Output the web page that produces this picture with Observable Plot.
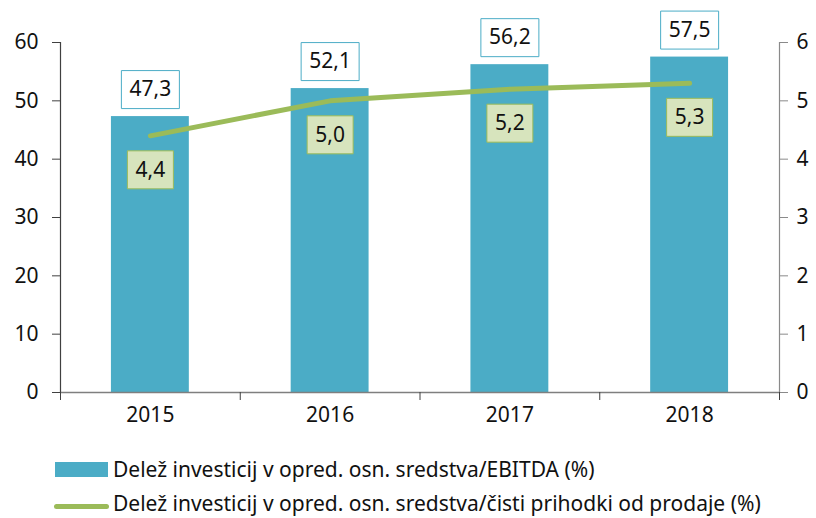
<!DOCTYPE html>
<html>
<head>
<meta charset="utf-8">
<script src="https://cdn.jsdelivr.net/npm/d3@7"></script>
<script src="https://cdn.jsdelivr.net/npm/@observablehq/plot@0.6"></script>
<style>
  html, body { margin: 0; padding: 0; background: #fff; }
  #wrap { width: 816px; height: 518px; position: relative; font-family: "Noto Sans", sans-serif; }
  #legend { position: relative; height: 78px; font-size: 21px; color: #111; }
  .sw { position: absolute; }
  .lt { position: absolute; left: 113px; white-space: nowrap; line-height: 24px; }
</style>
</head>
<body>
<div id="wrap">
  <div id="chart"></div>
  <div id="legend"></div>
</div>
<script>
const years = ["2015", "2016", "2017", "2018"];
const ebitdaShare = [47.3, 52.1, 56.2, 57.5];
const revenueShare = [4.4, 5.0, 5.2, 5.3];
const leftTicks = [0, 10, 20, 30, 40, 50, 60];
const rightTicks = [0, 1, 2, 3, 4, 5, 6];
const seriesNames = [
  "Delež investicij v opred. osn. sredstva/EBITDA (%)",
  "Delež investicij v opred. osn. sredstva/čisti prihodki od prodaje (%)"
];

const barColor = "#4BACC6";
const lineColor = "#9BBB59";
const ratio = leftTicks[leftTicks.length - 1] / rightTicks[rightTicks.length - 1];
const fmt = v => v.toFixed(1).replace(".", ",");
const box = (w, h) => ({ draw(ctx) { ctx.rect(-w / 2, -h / 2, w, h); } });

const data = years.map((year, i) => ({ i, year, bar: ebitdaShare[i], line: revenueShare[i] }));
const half = 0.2167; // half bar width as a fraction of the category step
const cx = d => d.i + 0.5;

const chart = Plot.plot({
  width: 816,
  height: 440,
  marginLeft: 60,
  marginRight: 37,
  marginTop: 42,
  marginBottom: 48,
  x: { domain: [0, years.length], label: null },
  y: { domain: [0, 60], label: null },
  style: { fontFamily: "'Noto Sans', sans-serif", fontSize: "21px", color: "#111", background: "#fff" },
  marks: [
    Plot.rectY(data, { x1: d => cx(d) - half, x2: d => cx(d) + half, y: "bar", fill: barColor }),
    Plot.ruleY([0], { stroke: "#7f7f7f", strokeWidth: 1.5 }),
    Plot.ruleX([0], { stroke: "#404040", strokeWidth: 1.2 }),
    Plot.ruleX([years.length], { stroke: "#8a8a8a", strokeWidth: 1.2 }),
    Plot.axisY({ anchor: "left", ticks: leftTicks, tickSize: 8, tickPadding: 14, label: null, stroke: "#404040" }),
    Plot.axisY({ anchor: "right", ticks: rightTicks.map(t => t * ratio), tickFormat: d => String(d / ratio), tickSize: 8, tickPadding: 9, label: null, stroke: "#8a8a8a" }),
    Plot.axisX({ ticks: d3.range(years.length + 1), tickFormat: () => "", tickSize: 8, label: null, stroke: "#404040" }),
    Plot.axisX({ ticks: years.map((y, i) => i + 0.5), tickFormat: d => years[Math.floor(d)], tickSize: 0, tickPadding: 15, label: null }),
    Plot.line(data, { x: cx, y: d => d.line * ratio, stroke: lineColor, strokeWidth: 5, strokeLinecap: "round" }),
    Plot.dot(data, { x: cx, y: "bar", dy: -27, symbol: box(58, 38), fill: "white", stroke: barColor, strokeWidth: 1 }),
    Plot.text(data, { x: cx, y: "bar", dy: -27, text: d => fmt(d.bar), fill: "#111", fontSize: 21 }),
    Plot.dot(data, { x: cx, y: d => d.line * ratio, dy: 34, symbol: box(46, 38), fill: "#D7E4BD", stroke: lineColor, strokeWidth: 1 }),
    Plot.text(data, { x: cx, y: d => d.line * ratio, dy: 34, text: d => fmt(d.line), fill: "#111", fontSize: 21 })
  ]
});
document.getElementById("chart").appendChild(chart);

const legend = document.getElementById("legend");
legend.innerHTML = `
  <div class="sw" style="left:55px;top:22px;width:53px;height:15px;background:${barColor}"></div>
  <div class="lt" style="top:17px">${seriesNames[0]}</div>
  <div class="sw" style="left:54px;top:64px;width:55px;height:5px;border-radius:3px;background:${lineColor}"></div>
  <div class="lt" style="top:51px">${seriesNames[1]}</div>
`;
</script>
</body>
</html>
